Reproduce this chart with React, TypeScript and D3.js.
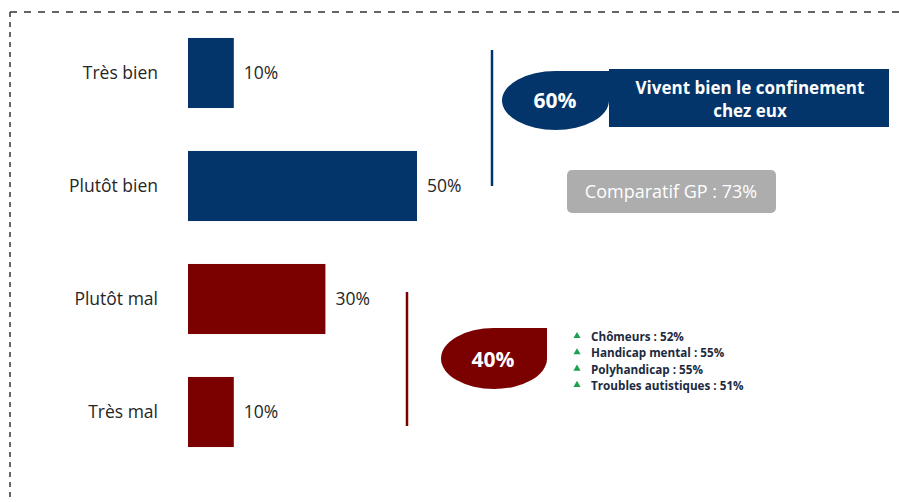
import React, { useRef, useEffect } from "react";
import * as d3 from "d3";

// catégories et valeurs (%)
const categories = ["Très bien", "Plutôt bien", "Plutôt mal", "Très mal"];
const values = [10, 50, 30, 10];
const barColors = ["#03356b", "#03356b", "#7b0000", "#7b0000"];

// totaux par groupe
const groupTotals = ["60%", "40%"];
const headline = ["Vivent bien le confinement", "chez eux"];
const comparatif = "Comparatif GP : 73%";

// sous-populations (groupe "mal")
const subgroups = ["Chômeurs", "Handicap mental", "Polyhandicap", "Troubles autistiques"];
const subValues = [52, 55, 55, 51];

const W = 899;
const H = 502;
const FONT = "'Open Sans', sans-serif";

// forme "goutte" : ellipse avec coin haut-droit carré
function dropPath(x0: number, y0: number, w: number, h: number) {
  const rx = w / 2;
  const ry = h / 2;
  const cx = x0 + rx;
  const cy = y0 + ry;
  return `M${cx},${y0} L${x0 + w},${y0} L${x0 + w},${cy} A${rx},${ry} 0 0 1 ${cx},${y0 + h} A${rx},${ry} 0 0 1 ${x0},${cy} A${rx},${ry} 0 0 1 ${cx},${y0} Z`;
}

export default function App() {
  const ref = useRef<SVGSVGElement | null>(null);

  useEffect(() => {
    const svg = d3.select(ref.current);
    svg.selectAll("*").remove();

    const x = d3.scaleLinear().domain([0, 50]).range([188, 417]);
    const y = d3
      .scaleBand()
      .domain(categories)
      .range([16.5, 468.5])
      .paddingInner(0.38)
      .paddingOuter(0.19);

    // cadre pointillé (haut + gauche)
    svg
      .append("line")
      .attr("x1", 10).attr("y1", 12).attr("x2", W).attr("y2", 12)
      .attr("stroke", "#333").attr("stroke-width", 1.5)
      .attr("stroke-dasharray", "7 7");
    svg
      .append("line")
      .attr("x1", 10).attr("y1", 12).attr("x2", 10).attr("y2", H)
      .attr("stroke", "#333").attr("stroke-width", 1.5)
      .attr("stroke-dasharray", "5 5");

    // barres
    svg
      .selectAll(".bar")
      .data(values)
      .enter()
      .append("rect")
      .attr("class", "bar")
      .attr("x", x(0))
      .attr("y", (d, i) => y(categories[i])!)
      .attr("width", (d) => x(d) - x(0))
      .attr("height", y.bandwidth())
      .attr("fill", (d, i) => barColors[i]);

    // libellés catégories
    svg
      .selectAll(".cat")
      .data(categories)
      .enter()
      .append("text")
      .attr("x", 158)
      .attr("y", (d) => y(d)! + y.bandwidth() / 2)
      .attr("dy", "0.35em")
      .attr("text-anchor", "end")
      .attr("font-family", FONT)
      .attr("font-size", 17.5)
      .attr("fill", "#262626")
      .text((d) => d);

    // valeurs
    svg
      .selectAll(".val")
      .data(values)
      .enter()
      .append("text")
      .attr("x", (d) => x(d) + 10)
      .attr("y", (d, i) => y(categories[i])! + y.bandwidth() / 2)
      .attr("dy", "0.35em")
      .attr("font-family", FONT)
      .attr("font-size", 17.5)
      .attr("fill", "#262626")
      .text((d) => d + "%");

    // accolades verticales
    svg.append("line")
      .attr("x1", 492).attr("x2", 492).attr("y1", 50).attr("y2", 186)
      .attr("stroke", "#03356b").attr("stroke-width", 2.5);
    svg.append("line")
      .attr("x1", 407).attr("x2", 407).attr("y1", 292).attr("y2", 426)
      .attr("stroke", "#7b0000").attr("stroke-width", 2.5);

    // groupe "bien"
    svg.append("path").attr("d", dropPath(502, 71, 107, 59)).attr("fill", "#03356b");
    svg.append("text")
      .attr("x", 555).attr("y", 101).attr("dy", "0.35em")
      .attr("text-anchor", "middle")
      .attr("font-family", FONT).attr("font-weight", "bold").attr("font-size", 21)
      .attr("fill", "#fff").text(groupTotals[0]);

    svg.append("rect")
      .attr("x", 609).attr("y", 69).attr("width", 280).attr("height", 58)
      .attr("fill", "#03356b");
    svg.selectAll(".head")
      .data(headline)
      .enter()
      .append("text")
      .attr("x", 750)
      .attr("y", (d, i) => 88 + i * 23)
      .attr("dy", "0.35em")
      .attr("text-anchor", "middle")
      .attr("font-family", FONT).attr("font-weight", "bold").attr("font-size", 17)
      .attr("fill", "#fff")
      .text((d) => d);

    svg.append("rect")
      .attr("x", 567).attr("y", 170).attr("width", 209).attr("height", 43)
      .attr("rx", 5)
      .attr("fill", "#adadad");
    svg.append("text")
      .attr("x", 671).attr("y", 192).attr("dy", "0.35em")
      .attr("text-anchor", "middle")
      .attr("font-family", FONT).attr("font-size", 18)
      .attr("fill", "#fff").text(comparatif);

    // groupe "mal"
    svg.append("path").attr("d", dropPath(441, 328, 106, 61)).attr("fill", "#7b0000");
    svg.append("text")
      .attr("x", 493).attr("y", 360).attr("dy", "0.35em")
      .attr("text-anchor", "middle")
      .attr("font-family", FONT).attr("font-weight", "bold").attr("font-size", 21)
      .attr("fill", "#fff").text(groupTotals[1]);

    const rows = svg
      .selectAll(".sub")
      .data(subgroups)
      .enter()
      .append("g")
      .attr("transform", (d, i) => `translate(577, ${337 + i * 16.3})`);
    rows.append("path")
      .attr("d", d3.symbol(d3.symbolTriangle, 22)())
      .attr("transform", "translate(0, -1)")
      .attr("fill", "#1fa050");
    rows.append("text")
      .attr("x", 14)
      .attr("dy", "0.35em")
      .attr("font-family", FONT).attr("font-weight", "bold").attr("font-size", 11.7)
      .attr("fill", "#1c2a40")
      .text((d, i) => `${d} : ${subValues[i]}%`);
  }, []);

  return (
    <svg
      ref={ref}
      width={W}
      height={H}
      style={{ position: "absolute", left: 0, top: 0, background: "#fff" }}
    />
  );
}
